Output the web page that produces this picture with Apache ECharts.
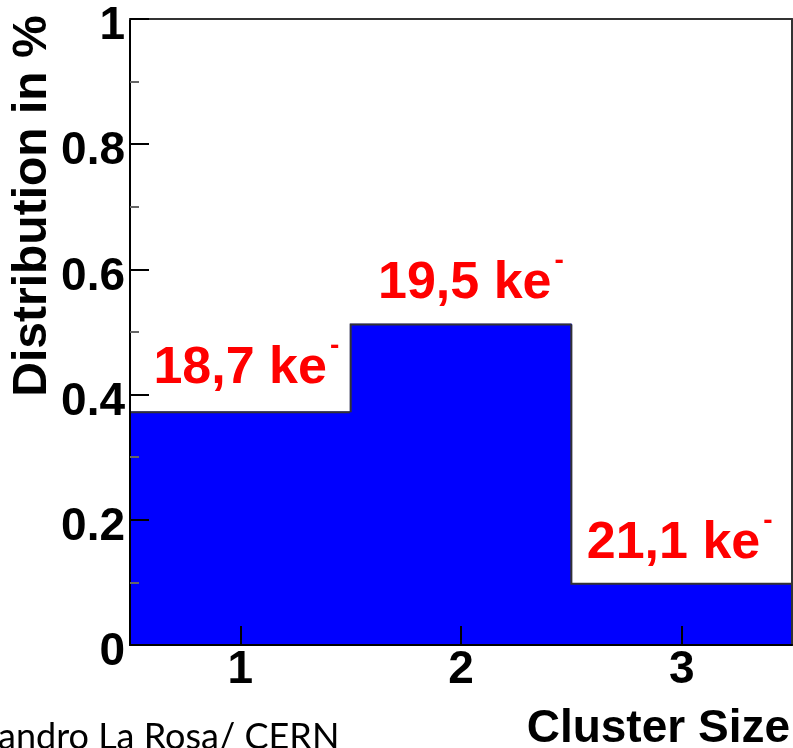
<!DOCTYPE html>
<html>
<head>
<meta charset="utf-8">
<script src="https://cdn.jsdelivr.net/npm/echarts@6/dist/echarts.min.js"></script>
<style>
  html, body { margin: 0; padding: 0; background: #ffffff; }
  #chart { width: 793px; height: 748px; }
</style>
</head>
<body>
<div id="chart"></div>
<script>
// Cluster size bins and the fraction of clusters falling in each bin
const clusterSizes = ['1', '2', '3'];
const fractions = [0.372, 0.512, 0.098];

// Mean collected charge per cluster size, with each label's anchor
// (left edge in cluster-size units, baseline in fraction units)
const chargeLabels = ['18,7 ke', '19,5 ke', '21,1 ke'];
const chargeLabelX = [0.606, 1.624, 2.570];
const chargeLabelY = [0.413, 0.549, 0.133];

const FONT = '"Liberation Sans", Arial, Helvetica, sans-serif';

const chart = echarts.init(document.getElementById('chart'), null, { renderer: 'canvas' });

const measureCtx = document.createElement('canvas').getContext('2d');
function textWidth(text, font) {
  measureCtx.font = font;
  return measureCtx.measureText(text).width;
}

const histData = fractions.map((v, i) => [i, v]);
const labelData = chargeLabels.map((t, i) => [chargeLabelX[i], chargeLabelY[i], i]);

// Filled histogram with its step outline
function renderHistBin(params, api) {
  const idx = api.value(0);
  const top = api.coord([idx, api.value(1)]);
  const base = api.coord([idx, 0]);
  const w = api.size([1, 0])[0];
  const x0 = top[0] - w / 2;
  const x1 = top[0] + w / 2;
  const prevY = idx > 0 ? api.coord([idx - 1, fractions[idx - 1]])[1] : base[1];
  const pts = [[x0, prevY], [x0, top[1]], [x1, top[1]]];
  if (idx === fractions.length - 1) pts.push([x1, base[1]]);
  return {
    type: 'group',
    children: [
      {
        type: 'rect',
        shape: { x: x0, y: top[1], width: w, height: base[1] - top[1] },
        style: { fill: '#0000ff', stroke: '#0000ff', lineWidth: 1.5 }
      },
      {
        type: 'polyline',
        shape: { points: pts },
        style: { stroke: '#333333', lineWidth: 2, fill: null }
      }
    ]
  };
}

// Charge labels "xx,x ke" with a raised minus sign
function renderChargeLabel(params, api) {
  const hx = api.value(0);
  const hy = api.value(1);
  const i = api.value(2);
  let bin = Math.round(hx) - 1;
  bin = Math.max(0, Math.min(clusterSizes.length - 1, bin));
  const p = api.coord([bin, hy]);
  const w = api.size([1, 0])[0];
  const x = p[0] + (hx - (bin + 1)) * w;
  const baseline = p[1];
  const mainSize = 52;
  const mainFont = 'bold ' + mainSize + 'px ' + FONT;
  const tw = textWidth(chargeLabels[i], mainFont);
  return {
    type: 'group',
    children: [
      {
        type: 'text',
        style: {
          text: chargeLabels[i],
          x: x,
          y: baseline - 0.3465 * mainSize,
          font: mainFont,
          fill: '#ff0000',
          align: 'left',
          verticalAlign: 'middle'
        }
      },
      {
        type: 'text',
        style: {
          text: '-',
          x: x + tw + 3,
          y: baseline - 40,
          font: 'bold 28px ' + FONT,
          fill: '#ff0000',
          align: 'left',
          verticalAlign: 'middle'
        }
      }
    ]
  };
}

const option = {
  backgroundColor: '#ffffff',
  animation: false,
  grid: { left: 130, top: 19, width: 662, height: 626, containLabel: false },
  xAxis: [
    {
      type: 'category',
      data: clusterSizes,
      boundaryGap: true,
      z: 10,
      axisLine: { show: true, lineStyle: { color: '#000000', width: 2 } },
      axisTick: { show: true, inside: true, alignWithLabel: true, length: 19, lineStyle: { color: '#000000', width: 2 } },
      axisLabel: { show: true, margin: 2, color: '#000000', fontFamily: FONT, fontWeight: 'bold', fontSize: 46, verticalAlign: 'top' },
      splitLine: { show: false }
    },
    {
      type: 'category',
      data: clusterSizes,
      position: 'top',
      z: 10,
      axisLine: { show: true, onZero: false, lineStyle: { color: '#333333', width: 2 } },
      axisTick: { show: false },
      axisLabel: { show: false },
      splitLine: { show: false }
    }
  ],
  yAxis: [
    {
      type: 'value',
      min: 0,
      max: 1,
      interval: 0.2,
      z: 10,
      axisLine: { show: true, lineStyle: { color: '#000000', width: 2 } },
      axisTick: { show: true, inside: true, length: 19, lineStyle: { color: '#000000', width: 2 } },
      minorTick: { show: true, splitNumber: 2, length: 9, lineStyle: { color: '#666666', width: 2 } },
      axisLabel: {
        show: true,
        margin: 5,
        color: '#000000',
        fontFamily: FONT,
        fontWeight: 'bold',
        fontSize: 46,
        verticalAlign: 'top',
        lineHeight: 15,
        formatter: v => (v === 0 || v === 1) ? String(v) : v.toFixed(1)
      },
      splitLine: { show: false },
      minorSplitLine: { show: false }
    },
    {
      type: 'value',
      min: 0,
      max: 1,
      position: 'right',
      z: 10,
      axisLine: { show: true, onZero: false, lineStyle: { color: '#333333', width: 2 } },
      axisTick: { show: false },
      axisLabel: { show: false },
      splitLine: { show: false }
    }
  ],
  series: [
    {
      type: 'custom',
      name: 'Cluster size distribution',
      xAxisIndex: 0,
      yAxisIndex: 0,
      renderItem: renderHistBin,
      data: histData,
      z: 2
    },
    {
      type: 'custom',
      name: 'Mean charge',
      xAxisIndex: 0,
      yAxisIndex: 0,
      renderItem: renderChargeLabel,
      data: labelData,
      z: 4,
      silent: true
    }
  ],
  graphic: [
    {
      type: 'text',
      x: 33,
      y: 206,
      rotation: Math.PI / 2,
      style: {
        text: 'Distribution in %',
        font: 'bold 48px ' + FONT,
        fill: '#000000',
        align: 'center',
        verticalAlign: 'middle'
      }
    },
    {
      type: 'text',
      x: 790,
      y: 729,
      style: {
        text: 'Cluster Size',
        font: 'bold 46px ' + FONT,
        fill: '#000000',
        align: 'right',
        verticalAlign: 'middle'
      }
    },
    {
      type: 'text',
      x: -2,
      y: 737,
      style: {
        text: 'andro La Rosa/ CERN',
        font: '36px Lato, "Open Sans", sans-serif',
        fill: '#000000',
        align: 'left',
        verticalAlign: 'middle'
      }
    }
  ]
};

chart.setOption(option);
</script>
</body>
</html>
